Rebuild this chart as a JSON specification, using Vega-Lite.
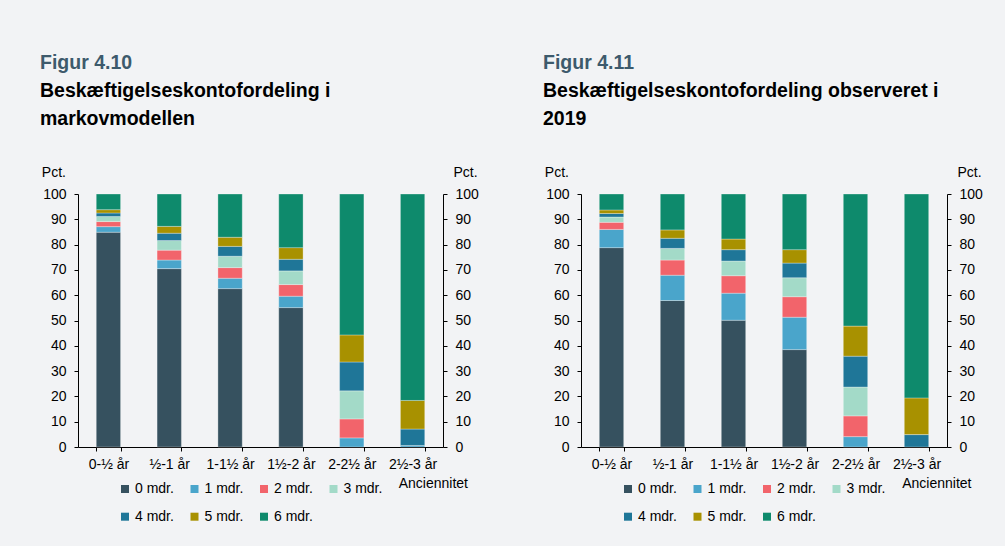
{
  "$schema": "https://vega.github.io/schema/vega-lite/v6.json",
  "background": "#f2f3f5",
  "padding": {"left": 40, "top": 52, "right": 22, "bottom": 26},
  "autosize": {"type": "pad"},
  "datasets": {
    "markov": [
      {"anc": "0-½ år", "kat": "0 mdr.", "pct": 84.9},
      {"anc": "0-½ år", "kat": "1 mdr.", "pct": 2.2},
      {"anc": "0-½ år", "kat": "2 mdr.", "pct": 2.0},
      {"anc": "0-½ år", "kat": "3 mdr.", "pct": 2.0},
      {"anc": "0-½ år", "kat": "4 mdr.", "pct": 1.4},
      {"anc": "0-½ år", "kat": "5 mdr.", "pct": 1.3},
      {"anc": "0-½ år", "kat": "6 mdr.", "pct": 6.2},
      {"anc": "½-1 år", "kat": "0 mdr.", "pct": 70.5},
      {"anc": "½-1 år", "kat": "1 mdr.", "pct": 3.4},
      {"anc": "½-1 år", "kat": "2 mdr.", "pct": 3.9},
      {"anc": "½-1 år", "kat": "3 mdr.", "pct": 3.8},
      {"anc": "½-1 år", "kat": "4 mdr.", "pct": 2.9},
      {"anc": "½-1 år", "kat": "5 mdr.", "pct": 2.7},
      {"anc": "½-1 år", "kat": "6 mdr.", "pct": 12.8},
      {"anc": "1-1½ år", "kat": "0 mdr.", "pct": 62.6},
      {"anc": "1-1½ år", "kat": "1 mdr.", "pct": 4.1},
      {"anc": "1-1½ år", "kat": "2 mdr.", "pct": 4.2},
      {"anc": "1-1½ år", "kat": "3 mdr.", "pct": 4.5},
      {"anc": "1-1½ år", "kat": "4 mdr.", "pct": 3.9},
      {"anc": "1-1½ år", "kat": "5 mdr.", "pct": 3.6},
      {"anc": "1-1½ år", "kat": "6 mdr.", "pct": 17.1},
      {"anc": "1½-2 år", "kat": "0 mdr.", "pct": 55.1},
      {"anc": "1½-2 år", "kat": "1 mdr.", "pct": 4.5},
      {"anc": "1½-2 år", "kat": "2 mdr.", "pct": 4.6},
      {"anc": "1½-2 år", "kat": "3 mdr.", "pct": 5.4},
      {"anc": "1½-2 år", "kat": "4 mdr.", "pct": 4.6},
      {"anc": "1½-2 år", "kat": "5 mdr.", "pct": 4.6},
      {"anc": "1½-2 år", "kat": "6 mdr.", "pct": 21.2},
      {"anc": "2-2½ år", "kat": "1 mdr.", "pct": 3.6},
      {"anc": "2-2½ år", "kat": "2 mdr.", "pct": 7.5},
      {"anc": "2-2½ år", "kat": "3 mdr.", "pct": 11.1},
      {"anc": "2-2½ år", "kat": "4 mdr.", "pct": 11.4},
      {"anc": "2-2½ år", "kat": "5 mdr.", "pct": 10.7},
      {"anc": "2-2½ år", "kat": "6 mdr.", "pct": 55.7},
      {"anc": "2½-3 år", "kat": "1 mdr.", "pct": 0.6},
      {"anc": "2½-3 år", "kat": "4 mdr.", "pct": 6.5},
      {"anc": "2½-3 år", "kat": "5 mdr.", "pct": 11.3},
      {"anc": "2½-3 år", "kat": "6 mdr.", "pct": 81.6}
    ],
    "obs": [
      {"anc": "0-½ år", "kat": "0 mdr.", "pct": 78.8},
      {"anc": "0-½ år", "kat": "1 mdr.", "pct": 7.2},
      {"anc": "0-½ år", "kat": "2 mdr.", "pct": 2.8},
      {"anc": "0-½ år", "kat": "3 mdr.", "pct": 2.1},
      {"anc": "0-½ år", "kat": "4 mdr.", "pct": 1.4},
      {"anc": "0-½ år", "kat": "5 mdr.", "pct": 1.4},
      {"anc": "0-½ år", "kat": "6 mdr.", "pct": 6.3},
      {"anc": "½-1 år", "kat": "0 mdr.", "pct": 57.9},
      {"anc": "½-1 år", "kat": "1 mdr.", "pct": 10.0},
      {"anc": "½-1 år", "kat": "2 mdr.", "pct": 6.0},
      {"anc": "½-1 år", "kat": "3 mdr.", "pct": 4.6},
      {"anc": "½-1 år", "kat": "4 mdr.", "pct": 4.0},
      {"anc": "½-1 år", "kat": "5 mdr.", "pct": 3.3},
      {"anc": "½-1 år", "kat": "6 mdr.", "pct": 14.2},
      {"anc": "1-1½ år", "kat": "0 mdr.", "pct": 50.1},
      {"anc": "1-1½ år", "kat": "1 mdr.", "pct": 10.7},
      {"anc": "1-1½ år", "kat": "2 mdr.", "pct": 6.9},
      {"anc": "1-1½ år", "kat": "3 mdr.", "pct": 5.8},
      {"anc": "1-1½ år", "kat": "4 mdr.", "pct": 4.5},
      {"anc": "1-1½ år", "kat": "5 mdr.", "pct": 4.2},
      {"anc": "1-1½ år", "kat": "6 mdr.", "pct": 17.8},
      {"anc": "1½-2 år", "kat": "0 mdr.", "pct": 38.5},
      {"anc": "1½-2 år", "kat": "1 mdr.", "pct": 12.8},
      {"anc": "1½-2 år", "kat": "2 mdr.", "pct": 8.1},
      {"anc": "1½-2 år", "kat": "3 mdr.", "pct": 7.5},
      {"anc": "1½-2 år", "kat": "4 mdr.", "pct": 5.8},
      {"anc": "1½-2 år", "kat": "5 mdr.", "pct": 5.3},
      {"anc": "1½-2 år", "kat": "6 mdr.", "pct": 22.0},
      {"anc": "2-2½ år", "kat": "1 mdr.", "pct": 4.1},
      {"anc": "2-2½ år", "kat": "2 mdr.", "pct": 8.2},
      {"anc": "2-2½ år", "kat": "3 mdr.", "pct": 11.4},
      {"anc": "2-2½ år", "kat": "4 mdr.", "pct": 12.2},
      {"anc": "2-2½ år", "kat": "5 mdr.", "pct": 11.9},
      {"anc": "2-2½ år", "kat": "6 mdr.", "pct": 52.2},
      {"anc": "2½-3 år", "kat": "4 mdr.", "pct": 4.9},
      {"anc": "2½-3 år", "kat": "5 mdr.", "pct": 14.5},
      {"anc": "2½-3 år", "kat": "6 mdr.", "pct": 80.6}
    ]
  },
  "hconcat": [
    {
      "width": 365,
      "height": 253,
      "data": {"name": "markov"},
      "title": {
        "text": "Figur 4.10",
        "subtitle": ["Beskæftigelseskontofordeling i", "markovmodellen"]
      },
      "layer": [
        {
          "mark": {"type": "bar", "stroke": "#ffffff", "strokeWidth": 0.5, "strokeOpacity": 0.6},
          "encoding": {
            "x": {"field": "anc", "type": "nominal", "sort": null,
              "scale": {"paddingInner": 0.6, "paddingOuter": 0.3},
              "axis": {"title": "Anciennitet", "titleX": 389.5, "titleY": 36, "titleAlign": "right", "titleBaseline": "middle", "titleAnchor": null}},
            "y": {"field": "pct", "type": "quantitative", "stack": "zero",
              "scale": {"domain": [0, 100]},
              "axis": {"orient": "left", "title": "Pct.", "titleX": -36.7, "titleY": -18, "values": [0, 10, 20, 30, 40, 50, 60, 70, 80, 90, 100]}},
            "color": {"field": "kat", "type": "nominal",
              "scale": {"domain": ["0 mdr.", "1 mdr.", "2 mdr.", "3 mdr.", "4 mdr.", "5 mdr.", "6 mdr."],
                "range": ["#36515f", "#4aa5cb", "#f2646b", "#a3dac8", "#1f7698", "#a89100", "#0e8a6c"]},
              "legend": {"orient": "none", "legendX": 40, "legendY": 288, "title": null, "direction": "horizontal"}},
            "order": {"field": "kat", "sort": "ascending"}
          }
        },
        {
          "mark": {"type": "bar", "opacity": 0},
          "encoding": {
            "x": {"field": "anc", "type": "nominal", "sort": null},
            "y": {"field": "pct", "type": "quantitative", "stack": null,
              "scale": {"domain": [0, 100]},
              "axis": {"orient": "right", "title": "Pct.", "titleX": 10, "titleY": -18, "values": [0, 10, 20, 30, 40, 50, 60, 70, 80, 90, 100]}}
          }
        }
      ],
      "resolve": {"axis": {"y": "independent"}}
    },
    {
      "width": 366,
      "height": 253,
      "data": {"name": "obs"},
      "title": {
        "text": "Figur 4.11",
        "subtitle": ["Beskæftigelseskontofordeling observeret i", "2019"]
      },
      "layer": [
        {
          "mark": {"type": "bar", "stroke": "#ffffff", "strokeWidth": 0.5, "strokeOpacity": 0.6},
          "encoding": {
            "x": {"field": "anc", "type": "nominal", "sort": null,
              "scale": {"paddingInner": 0.6, "paddingOuter": 0.3},
              "axis": {"title": "Anciennitet", "titleX": 390, "titleY": 36, "titleAlign": "right", "titleBaseline": "middle", "titleAnchor": null}},
            "y": {"field": "pct", "type": "quantitative", "stack": "zero",
              "scale": {"domain": [0, 100]},
              "axis": {"orient": "left", "title": "Pct.", "titleX": -36.7, "titleY": -18, "values": [0, 10, 20, 30, 40, 50, 60, 70, 80, 90, 100]}},
            "color": {"field": "kat", "type": "nominal",
              "scale": {"domain": ["0 mdr.", "1 mdr.", "2 mdr.", "3 mdr.", "4 mdr.", "5 mdr.", "6 mdr."],
                "range": ["#36515f", "#4aa5cb", "#f2646b", "#a3dac8", "#1f7698", "#a89100", "#0e8a6c"]},
              "legend": {"orient": "none", "legendX": 40, "legendY": 288, "title": null, "direction": "horizontal"}},
            "order": {"field": "kat", "sort": "ascending"}
          }
        },
        {
          "mark": {"type": "bar", "opacity": 0},
          "encoding": {
            "x": {"field": "anc", "type": "nominal", "sort": null},
            "y": {"field": "pct", "type": "quantitative", "stack": null,
              "scale": {"domain": [0, 100]},
              "axis": {"orient": "right", "title": "Pct.", "titleX": 10, "titleY": -18, "values": [0, 10, 20, 30, 40, 50, 60, 70, 80, 90, 100]}}
          }
        }
      ],
      "resolve": {"axis": {"y": "independent"}}
    }
  ],
  "spacing": 138,
  "bounds": "flush",
  "resolve": {"scale": {"color": "independent"}},
  "config": {
    "font": "Liberation Sans",
    "view": {"stroke": null},
    "title": {
      "anchor": "start", "frame": "group", "dx": -38, "offset": 35,
      "fontSize": 19.5, "fontWeight": "bold", "color": "#3d5a6c",
      "subtitleFontSize": 19.5, "subtitleFontWeight": "bold", "subtitleColor": "#000000",
      "subtitleLineHeight": 28.3, "subtitlePadding": 9
    },
    "axis": {
      "domainColor": "#000000", "domainWidth": 1,
      "tickColor": "#000000", "tickWidth": 1, "tickSize": 4,
      "labelColor": "#000000", "labelFontSize": 14, "labelPadding": 8,
      "titleColor": "#000000", "titleFontSize": 14, "titleFontWeight": "normal",
      "grid": false, "labelOverlap": false
    },
    "axisX": {"tickBand": "extent", "labelAngle": 0, "labelPadding": 6, "labelFlush": false},
    "axisY": {"titleAngle": 0, "titleAlign": "left", "titleBaseline": "alphabetic", "titleAnchor": null},
    "legend": {
      "columns": 4, "symbolType": "square", "symbolSize": 64, "symbolStrokeWidth": 0,
      "labelFontSize": 14, "labelColor": "#000000", "labelOffset": 3,
      "columnPadding": 13.5, "rowPadding": 13.7, "padding": 0
    }
  }
}
